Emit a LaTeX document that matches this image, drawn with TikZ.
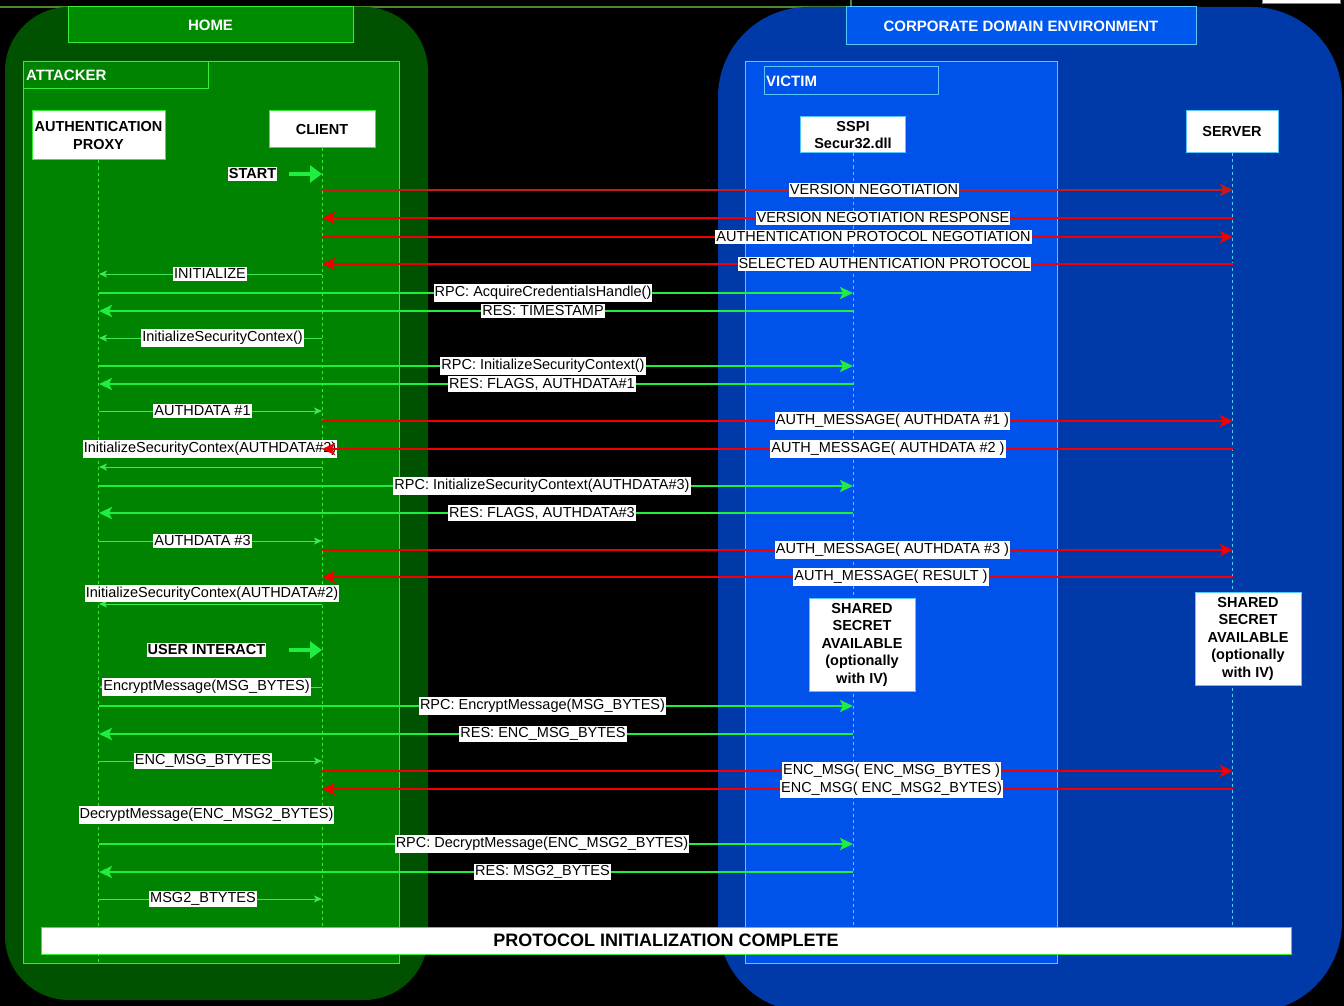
\documentclass[tikz,border=0pt]{standalone}
\usepackage{fontspec}
\setmainfont{Liberation Sans}
\usetikzlibrary{arrows.meta}

\definecolor{homeout}{HTML}{005200}
\definecolor{homein}{HTML}{008300}
\definecolor{hometitle}{HTML}{008C00}
\definecolor{greenedge}{HTML}{33EE33}
\definecolor{corpout}{HTML}{003AA8}
\definecolor{corpin}{HTML}{0052EA}
\definecolor{corptitle}{HTML}{0057EE}
\definecolor{blueedge}{HTML}{55C8FF}
\definecolor{msgred}{HTML}{F00000}
\definecolor{msgdark}{HTML}{C41C1C}
\definecolor{msggreen}{HTML}{1EEE40}
\definecolor{thingreen}{HTML}{3CE858}
\definecolor{olive}{HTML}{4A8A2A}

\newcommand\labfont{\fontsize{14.5}{17}\selectfont}
\newcommand\boldfont{\fontsize{14.5}{17.5}\selectfont\bfseries}

\tikzset{
  lab/.style={fill=white, text=black, font=\labfont, inner xsep=1pt, inner ysep=1.8pt},
  actor/.style={draw=greenedge, fill=white, line width=1pt, font=\boldfont, align=center, inner sep=0pt},
  vactor/.style={draw=blueedge, fill=white, line width=1pt, font=\boldfont, align=center, inner sep=0pt},
  glife/.style={draw=greenedge, line width=0.8pt, dash pattern=on 3pt off 3pt},
  blife/.style={draw=blueedge, line width=0.8pt, dash pattern=on 3pt off 3pt},
  redmsg/.style={draw=msgred, line width=2.8pt, -{Stealth[length=13pt,width=12pt,inset=3pt]}},
  darkmsg/.style={draw=msgdark, line width=2.2pt, -{Stealth[length=13pt,width=12pt,inset=3pt]}},
  rpcmsg/.style={draw=msggreen, line width=2.8pt, -{Stealth[length=13pt,width=12pt,inset=3pt]}},
  thinmsg/.style={draw=thingreen, line width=1pt, -{Stealth[length=8pt,width=7pt,inset=2pt]}},
  cue/.style={draw=msggreen, line width=4pt, -{Triangle[length=12pt,width=17pt]}},
  titletext/.style={text=white, font=\fontsize{15}{18}\selectfont\bfseries},
}

% message: style, from lifeline, to lifeline, y, label x, name, text
\newcommand\mess[7]{%
  \coordinate (y#6) at (0,#4);
  \draw[#1] (#2 |- y#6) -- (#3 |- y#6);
  \node[lab] (#6) at (#5,#4) {#7};}
% message without label: style, from lifeline, to lifeline, y
\newcommand\bare[4]{%
  \coordinate (yb#4) at (0,#4);
  \draw[#1] (#2 |- yb#4) -- (#3 |- yb#4);}

\begin{document}
\begin{tikzpicture}[x=1pt,y=-1pt]
\clip (0,0) rectangle (1344,1006);
\fill[black] (0,0) rectangle (1344,1006);

% thin rule along the top edge
\draw[olive, line width=1.2pt] (0,7) -- (851,7) -- (851,0);
\draw[gray, fill=white, line width=0.6pt] (1262,-4) rectangle (1340,3);

% HOME domain
\fill[homeout, rounded corners=64pt] (5,7) rectangle (428,1000);
\node[draw=greenedge, fill=hometitle, line width=1pt, minimum width=285pt, minimum height=36pt, titletext] (home) at (210.5,25) {HOME};
\draw[draw=greenedge, fill=homein, line width=1pt] (23,62) rectangle (399,963);
\draw[draw=greenedge, line width=1pt] (23,62) rectangle (208,89);
\node[titletext, anchor=west, inner sep=0pt] (attacker) at (26,75.5) {ATTACKER};

% CORPORATE domain
\fill[corpout, rounded corners=90pt] (718,7) rectangle (1342,1012);
\node[draw=blueedge, fill=corptitle, line width=1pt, minimum width=350pt, minimum height=38pt, titletext] (corp) at (1021,26) {CORPORATE DOMAIN ENVIRONMENT};
\draw[draw=blueedge, fill=corpin, line width=1pt] (745,62) rectangle (1057,963);
\draw[draw=blueedge, line width=1pt] (764,67) rectangle (938,95);
\node[titletext, anchor=west, inner sep=0pt] (victim) at (766,81.5) {VICTIM};

% participants
\node[actor, minimum width=133pt, minimum height=49pt] (proxy) at (98.5,135.5) {AUTHENTICATION\\PROXY};
\node[actor, minimum width=106pt, minimum height=37pt] (client) at (322,129.5) {CLIENT};
\node[vactor, minimum width=105pt, minimum height=36pt] (sspi) at (853,135) {SSPI\\Secur32.dll};
\node[vactor, minimum width=92pt, minimum height=42pt] (server) at (1232,132) {SERVER};

% lifelines
\coordinate (endA) at (0,963);
\coordinate (endB) at (0,927);
\draw[glife] (proxy.south) -- (proxy.south |- endA);
\draw[glife] (client.south) -- (client.south |- endB);
\draw[blife] (sspi.south) -- (sspi.south |- endB);
\draw[blife] (server.south) -- (server.south |- endB);

\coordinate (P) at (99,0);
\coordinate (C) at (322,0);
\coordinate (S) at (853,0);
\coordinate (V) at (1233,0);

% start cue
\node[lab, font=\boldfont] (start) at (252.5,174) {START};
\coordinate (startfrom) at (289,174);
\draw[cue] (startfrom) -- (C |- startfrom);

% negotiation
\mess{darkmsg}{C}{V}{190}{874}{m1}{VERSION NEGOTIATION}
\mess{redmsg}{V}{C}{218}{883}{m2}{VERSION NEGOTIATION RESPONSE}
\mess{redmsg}{C}{V}{237}{873.5}{m3}{AUTHENTICATION PROTOCOL NEGOTIATION}
\mess{redmsg}{V}{C}{264}{884.5}{m4}{SELECTED AUTHENTICATION PROTOCOL}

% credentials and first context
\mess{thinmsg}{C}{P}{274}{210}{m5}{INITIALIZE}
\mess{rpcmsg}{P}{S}{293}{543}{m6}{RPC: AcquireCredentialsHandle()}
\mess{rpcmsg}{S}{P}{311}{543}{m7}{RES: TIMESTAMP}
\mess{thinmsg}{C}{P}{338}{222.5}{m8}{InitializeSecurityContex()}
\mess{rpcmsg}{P}{S}{366}{543}{m9}{RPC: InitializeSecurityContext()}
\mess{rpcmsg}{S}{P}{384}{542}{m10}{RES: FLAGS, AUTHDATA\#1}
\mess{thinmsg}{P}{C}{411}{202.5}{m11}{AUTHDATA \#1}
\mess{redmsg}{C}{V}{421}{892.5}{m12}{AUTH\_MESSAGE( AUTHDATA \#1 )}

% second round
\node[lab] (n13) at (210,449) {InitializeSecurityContex(AUTHDATA\#2)};
\mess{redmsg}{V}{C}{449}{888}{m13}{AUTH\_MESSAGE( AUTHDATA \#2 )}
\bare{thinmsg}{C}{P}{467}
\mess{rpcmsg}{P}{S}{486}{542}{m14}{RPC: InitializeSecurityContext(AUTHDATA\#3)}
\mess{rpcmsg}{S}{P}{513}{542}{m15}{RES: FLAGS, AUTHDATA\#3}
\mess{thinmsg}{P}{C}{541}{202.5}{m16}{AUTHDATA \#3}
\mess{redmsg}{C}{V}{550}{892.5}{m17}{AUTH\_MESSAGE( AUTHDATA \#3 )}
\mess{redmsg}{V}{C}{577}{891}{m18}{AUTH\_MESSAGE( RESULT )}
\bare{thinmsg}{C}{P}{604}
\node[lab] (n19) at (212,593.5) {InitializeSecurityContex(AUTHDATA\#2)};

% shared secret notes
\node[vactor, minimum width=106pt, minimum height=93pt] (sec1) at (862,644.5) {SHARED\\SECRET\\AVAILABLE\\(optionally\\with IV)};
\node[vactor, minimum width=106pt, minimum height=93pt] (sec2) at (1248,638.5) {SHARED\\SECRET\\AVAILABLE\\(optionally\\with IV)};

% user interaction cue
\node[lab, font=\boldfont] (user) at (206.5,650) {USER INTERACT};
\coordinate (userfrom) at (289,650);
\draw[cue] (userfrom) -- (C |- userfrom);

% message exchange
\mess{thinmsg}{C}{P}{687}{206.5}{m20}{EncryptMessage(MSG\_BYTES)}
\mess{rpcmsg}{P}{S}{706}{542.5}{m21}{RPC: EncryptMessage(MSG\_BYTES)}
\mess{rpcmsg}{S}{P}{734}{543}{m22}{RES: ENC\_MSG\_BYTES}
\mess{thinmsg}{P}{C}{761}{203}{m23}{ENC\_MSG\_BTYTES}
\mess{redmsg}{C}{V}{771}{891.5}{m24}{ENC\_MSG( ENC\_MSG\_BYTES )}
\mess{redmsg}{V}{C}{789}{891.5}{m25}{ENC\_MSG( ENC\_MSG2\_BYTES)}
\mess{thinmsg}{C}{P}{815}{206.5}{m26}{DecryptMessage(ENC\_MSG2\_BYTES)}
\mess{rpcmsg}{P}{S}{844}{542}{m27}{RPC: DecryptMessage(ENC\_MSG2\_BYTES)}
\mess{rpcmsg}{S}{P}{872}{542.5}{m28}{RES: MSG2\_BYTES}
\mess{thinmsg}{P}{C}{899}{203}{m29}{MSG2\_BTYTES}

% completion bar
\node[draw=greenedge, fill=white, line width=1pt, minimum width=1250pt, minimum height=27pt, inner sep=0pt, font=\fontsize{18}{20}\selectfont\bfseries] (done) at (666,940.5) {PROTOCOL INITIALIZATION COMPLETE};
\end{tikzpicture}
\end{document}
